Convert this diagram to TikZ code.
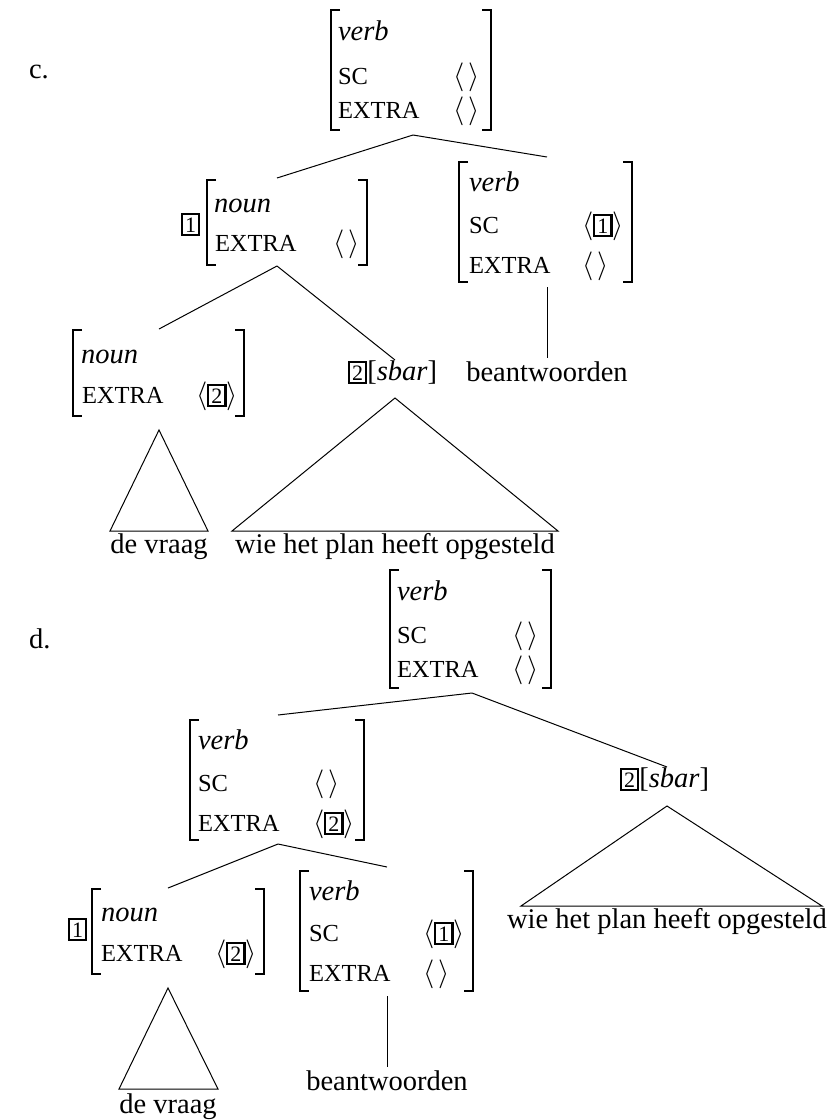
\documentclass[tikz,border=0pt]{standalone}
\usepackage{fontspec}
\setmainfont{Liberation Serif}
\usetikzlibrary{fit}

% boxed index tag
\newcommand{\tg}[1]{{\setlength{\fboxsep}{1pt}\setlength{\fboxrule}{1.1pt}\fbox{\fontsize{11}{11}\selectfont #1}}}
% empty list and one-element list
\newcommand{\elist}{$\langle\,\rangle$}
\newcommand{\tlist}[1]{$\langle$\tg{#1}$\rangle$}

% attribute-value matrix frame: name, left, top, right, bottom
\newcommand{\avm}[5]{%
  \node[fit={(#2,#3)(#4,#5)}, inner sep=0pt] (#1) {};
  \draw[brk] ([xshift=4.5pt]#1.north west) -- (#1.north west) -- (#1.south west) -- ([xshift=4.5pt]#1.south west);
  \draw[brk] ([xshift=-4.5pt]#1.north east) -- (#1.north east) -- (#1.south east) -- ([xshift=-4.5pt]#1.south east);}

\tikzset{
  every node/.style={inner sep=0pt, outer sep=0pt},
  typ/.style={anchor=base west, font=\fontsize{14.25}{16}\selectfont\itshape},
  feat/.style={anchor=base west, font=\fontsize{12.25}{14}\selectfont},
  val/.style={anchor=base west, font=\fontsize{14.25}{16}\selectfont},
  word/.style={anchor=base, font=\fontsize{14.25}{16}\selectfont},
  brk/.style={line width=1.2pt, line join=miter},
  edge/.style={line width=0.5pt},
}

\begin{document}
\begin{tikzpicture}[x=0.5pt, y=-0.5pt]
\useasboundingbox (0,0) rectangle (829,1120);

% ================= tree c =================
\node[val] (clab) at (29,78) {c.};

% root
\avm{ctop}{331}{10}{491}{130}
\node[typ]  (ctop-t)  at (338,40)  {verb};
\node[feat] (ctop-f1) at (338,84)  {SC};
\node[val]  (ctop-v1) at (453,84)  {\elist};
\node[feat] (ctop-f2) at (338,118) {EXTRA};
\node[val]  (ctop-v2) at (453,118) {\elist};
\coordinate (ctop-b) at (413,135);

% left daughter: tagged noun
\node[val] (ctag1) at (181,232) {\tg{1}};
\avm{cnoun}{207}{180}{367}{265}
\node[typ]  (cnoun-t)  at (214,212) {noun};
\node[feat] (cnoun-f1) at (215,251) {EXTRA};
\node[val]  (cnoun-v1) at (333,251) {\elist};
\coordinate (cnoun-a) at (277,178);
\coordinate (cnoun-b) at (277,266);

% right daughter: verb
\avm{cverb}{459}{162}{632}{282}
\node[typ]  (cverb-t)  at (469,191) {verb};
\node[feat] (cverb-f1) at (469,233) {SC};
\node[val]  (cverb-v1) at (582,233) {\tlist{1}};
\node[feat] (cverb-f2) at (469,273) {EXTRA};
\node[val]  (cverb-v2) at (582,273) {\elist};
\coordinate (cverb-a) at (547,157);
\coordinate (cverb-b) at (547,287);

\draw[edge] (ctop-b) -- (cnoun-a);
\draw[edge] (ctop-b) -- (cverb-a);

% noun's daughters
\avm{cn2}{73}{330}{244}{416}
\node[typ]  (cn2-t)  at (81,363) {noun};
\node[feat] (cn2-f1) at (82,403) {EXTRA};
\node[val]  (cn2-v1) at (196,403) {\tlist{2}};
\coordinate (cn2-a) at (159,329);
\coordinate (cn2-b) at (159,430);

\node[val] (csbar) at (348,380) {\tg{2}[\textit{sbar}]};
\coordinate (csbar-a) at (395,360);
\coordinate (csbar-b) at (395,398);

\draw[edge] (cnoun-b) -- (cn2-a);
\draw[edge] (cnoun-b) -- (csbar-a);

% terminals of tree c
\coordinate (ctri1-l) at (110,531);
\coordinate (ctri1-r) at (208,531);
\draw[edge] (cn2-b) -- (ctri1-l) -- (ctri1-r) -- cycle;
\node[word] (cw1) at (159,553) {de vraag};

\coordinate (ctri2-l) at (232,531);
\coordinate (ctri2-r) at (558,531);
\draw[edge] (csbar-b) -- (ctri2-l) -- (ctri2-r) -- cycle;
\node[word] (cw2) at (395,553) {wie het plan heeft opgesteld};

\node[word] (cw3) at (547,381) {beantwoorden};
\coordinate (cw3-a) at (547,358);
\draw[edge] (cverb-b) -- (cw3-a);

% ================= tree d =================
\node[val] (dlab) at (29,648) {d.};

% root
\avm{dtop}{390}{570}{551}{688}
\node[typ]  (dtop-t)  at (397,600) {verb};
\node[feat] (dtop-f1) at (397,643) {SC};
\node[val]  (dtop-v1) at (512,643) {\elist};
\node[feat] (dtop-f2) at (397,677) {EXTRA};
\node[val]  (dtop-v2) at (512,677) {\elist};
\coordinate (dtop-b) at (472,693);

% left daughter: verb with extraposed element
\avm{dv1}{190}{720}{364}{840}
\node[typ]  (dv1-t)  at (198,749) {verb};
\node[feat] (dv1-f1) at (198,791) {SC};
\node[val]  (dv1-v1) at (313,791) {\elist};
\node[feat] (dv1-f2) at (198,831) {EXTRA};
\node[val]  (dv1-v2) at (313,831) {\tlist{2}};
\coordinate (dv1-a) at (278,715);
\coordinate (dv1-b) at (278,844);

% right daughter: extraposed clause
\node[val] (dsbar) at (620,787) {\tg{2}[\textit{sbar}]};
\coordinate (dsbar-a) at (667,767);
\coordinate (dsbar-b) at (667,806);

\draw[edge] (dtop-b) -- (dv1-a);
\draw[edge] (dtop-b) -- (dsbar-a);

% lower noun and verb
\node[val] (dtag1) at (68,937) {\tg{1}};
\avm{dnoun}{92}{889}{264}{974}
\node[typ]  (dnoun-t)  at (101,921) {noun};
\node[feat] (dnoun-f1) at (101,961) {EXTRA};
\node[val]  (dnoun-v1) at (215,961) {\tlist{2}};
\coordinate (dnoun-a) at (168,888);
\coordinate (dnoun-b) at (168,988);

\avm{dv2}{300}{871}{473}{991}
\node[typ]  (dv2-t)  at (309,900) {verb};
\node[feat] (dv2-f1) at (309,941) {SC};
\node[val]  (dv2-v1) at (423,941) {\tlist{1}};
\node[feat] (dv2-f2) at (309,981) {EXTRA};
\node[val]  (dv2-v2) at (423,981) {\elist};
\coordinate (dv2-a) at (387,867);
\coordinate (dv2-b) at (387,996);

\draw[edge] (dv1-b) -- (dnoun-a);
\draw[edge] (dv1-b) -- (dv2-a);

% terminals of tree d
\coordinate (dtri1-l) at (119,1089);
\coordinate (dtri1-r) at (218,1089);
\draw[edge] (dnoun-b) -- (dtri1-l) -- (dtri1-r) -- cycle;
\node[word] (dw1) at (168,1113) {de vraag};

\node[word] (dw3) at (387,1090) {beantwoorden};
\coordinate (dw3-a) at (387,1067);
\draw[edge] (dv2-b) -- (dw3-a);

\coordinate (dtri2-l) at (521,906);
\coordinate (dtri2-r) at (822,906);
\draw[edge] (dsbar-b) -- (dtri2-l) -- (dtri2-r) -- cycle;
\node[word] (dw2) at (667,928) {wie het plan heeft opgesteld};
\end{tikzpicture}
\end{document}
